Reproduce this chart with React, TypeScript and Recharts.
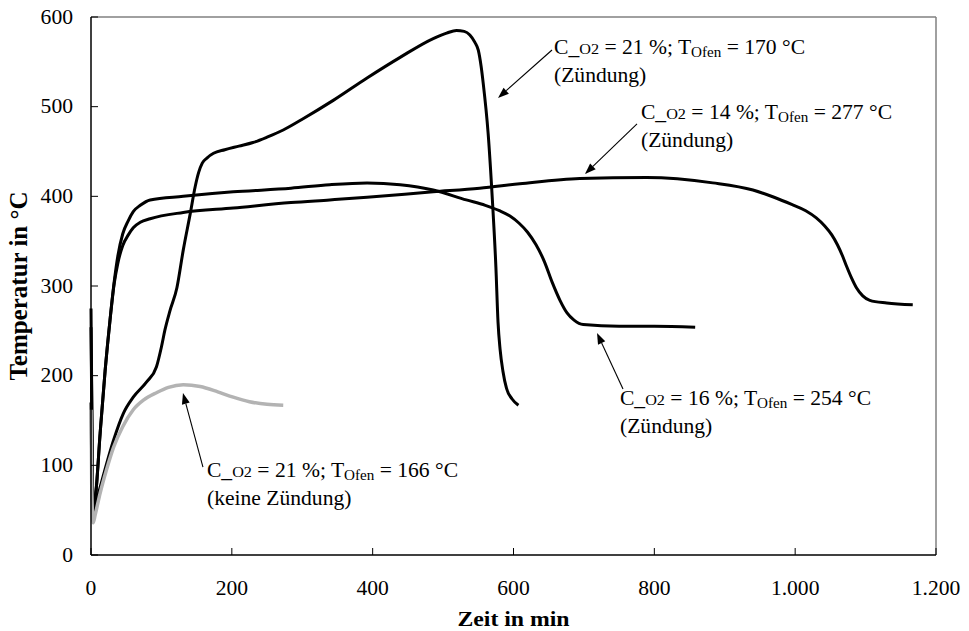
import React from 'react';
import { LineChart, Line, XAxis, YAxis, ReferenceLine, ReferenceDot } from 'recharts';

const FONT = '"Liberation Serif", "Times New Roman", Times, serif';
const SX = 1.08;

// Axis ticks
const xTicks = [0, 200, 400, 600, 800, 1000, 1200];
const xTickLabels = ['0', '200', '400', '600', '800', '1.000', '1.200'];
const yTicks = [0, 100, 200, 300, 400, 500, 600];
const yTickLabels = ['0', '100', '200', '300', '400', '500', '600'];

// C_O2 = 21 %, T_Ofen = 170 °C (Zündung)
const zeit21z = [0, 2, 4, 6, 17, 32, 46, 60, 79, 93, 100, 105, 112, 122, 131, 141, 148, 153, 158, 165, 174, 190, 210, 230, 250, 273, 300, 344, 392, 439, 486, 505, 519, 530, 538, 545, 550, 554, 557, 564, 570, 575, 578, 581, 585, 590, 598, 607];
const temp21z = [170, 60, 47, 54, 87, 128, 158, 176, 193, 210, 232, 251, 272, 298, 340, 381, 411, 427, 437, 443, 448, 452, 456, 460, 466, 474, 486, 507, 532, 555, 576, 582, 585, 584, 580, 572, 563, 545, 526, 470, 396, 321, 260, 229, 205, 186, 174, 167];

// C_O2 = 16 %, T_Ofen = 254 °C (Zündung)
const zeit16 = [0, 2, 3, 6, 13, 20, 27, 33, 38, 45, 53, 60, 70, 84, 131, 202, 284, 339, 392, 439, 486, 533, 560, 580, 595, 608, 620, 632, 644, 655, 666, 676, 686, 699, 750, 800, 858];
const temp16 = [254, 90, 50, 62, 136, 205, 262, 305, 333, 358, 373, 383, 390, 396, 400, 405, 409, 413, 415, 413, 407, 396, 390, 384, 378, 370, 360, 346, 327, 304, 284, 270, 262, 257, 255, 255, 254];

// C_O2 = 14 %, T_Ofen = 277 °C (Zündung)
const zeit14 = [0, 2, 3, 6, 13, 20, 27, 33, 38, 45, 53, 60, 70, 84, 131, 202, 284, 339, 392, 486, 552, 609, 694, 789, 883, 940, 970, 995, 1015, 1030, 1042, 1052, 1060, 1067, 1073, 1080, 1087, 1096, 1106, 1130, 1167];
const temp14 = [275, 90, 50, 62, 136, 205, 262, 303, 325, 345, 357, 365, 371, 375, 382, 387, 393, 396, 399, 405, 409, 414, 420, 421, 415, 407, 399, 391, 384, 376, 367, 357, 346, 334, 322, 309, 298, 289, 284, 281, 279];

// C_O2 = 21 %, T_Ofen = 166 °C (keine Zündung)
const zeit21k = [0, 1, 3, 6, 13, 22, 32, 45, 60, 75, 93, 110, 131, 155, 180, 202, 225, 250, 273];
const temp21k = [162, 80, 36, 45, 69, 95, 120, 143, 162, 173, 181, 187, 190, 188, 182, 176, 171, 168, 167];

const build = (ts: number[], vs: number[]) => ts.map((t, i) => ({ t, T: vs[i] }));
const s21z = build(zeit21z, temp21z);
const s16 = build(zeit16, temp16);
const s14 = build(zeit14, temp14);
const s21k = build(zeit21k, temp21k);

// Annotations (data coordinates)
const annotations = [
  { pct: '21', ofen: '170', note: '(Zündung)', tx: 657.5, ty: 559, ax1: 654.7, ay1: 563.2, ax2: 578, ay2: 509.7 },
  { pct: '14', ofen: '277', note: '(Zündung)', tx: 781, ty: 486, ax1: 775.4, ay1: 480.7, ax2: 701.5, ay2: 424.9 },
  { pct: '16', ofen: '254', note: '(Zündung)', tx: 751.2, ty: 167.3, ax1: 755.5, ay1: 185.1, ax2: 718.6, ay2: 247.6 },
  { pct: '21', ofen: '166', note: '(keine Zündung)', tx: 164.7, ty: 87, ax1: 159, ay1: 98.1, ax2: 130.6, ay2: 180.7 },
];

const YTick = (props: any) => {
  const { x, y, payload } = props;
  const i = yTicks.indexOf(payload.value);
  return (
    <g>
      <line x1={x} x2={x + 7} y1={y} y2={y} stroke="#000" strokeWidth={1} />
      <text transform={`translate(${x - 18},${y + 6.6}) scale(${SX},1)`} textAnchor="end" fontFamily={FONT} fontSize={20} fill="#000">
        {yTickLabels[i]}
      </text>
    </g>
  );
};

const XTick = (props: any) => {
  const { x, y, payload } = props;
  const i = xTicks.indexOf(payload.value);
  return (
    <g>
      <line x1={x} x2={x} y1={y} y2={y - 7} stroke="#000" strokeWidth={1} />
      <text transform={`translate(${x},${y + 40}) scale(${SX},1)`} textAnchor="middle" fontFamily={FONT} fontSize={20} fill="#000">
        {xTickLabels[i]}
      </text>
    </g>
  );
};

const XTitle = (props: any) => {
  const vb = props.viewBox || { x: 91, y: 555, width: 845, height: 30 };
  return (
    <text transform={`translate(${vb.x + vb.width / 2},${vb.y + 71}) scale(${SX},1)`} textAnchor="middle" fontFamily={FONT} fontSize={22} fontWeight="bold" fill="#000">
      Zeit in min
    </text>
  );
};

const YTitle = (props: any) => {
  const vb = props.viewBox || { x: 31, y: 17, width: 60, height: 538 };
  return (
    <text transform={`translate(${vb.x - 13},${vb.y + vb.height / 2}) rotate(-90)`} textAnchor="middle" dominantBaseline="central" fontFamily={FONT} fontSize={25} fontWeight="bold" fill="#000">
      Temperatur in °C
    </text>
  );
};

const Arrow = (p: any) => {
  const { x1, y1, x2, y2 } = p;
  const dx = x2 - x1;
  const dy = y2 - y1;
  const len = Math.hypot(dx, dy) || 1;
  const ux = dx / len;
  const uy = dy / len;
  const L = 11;
  const W = 4;
  const bx = x2 - ux * L;
  const by = y2 - uy * L;
  return (
    <g>
      <line x1={x1} y1={y1} x2={bx} y2={by} stroke="#000" strokeWidth={1.1} />
      <polygon points={`${x2},${y2} ${bx - uy * W},${by + ux * W} ${bx + uy * W},${by - ux * W}`} fill="#000" />
    </g>
  );
};

const AnnText = (p: any) => {
  const { cx, cy, a } = p;
  return (
    <text transform={`translate(${cx},${cy}) scale(${SX},1)`} fontFamily={FONT} fontSize={20} fill="#000">
      <tspan x={0} y={0}>C_</tspan>
      <tspan fontSize={15}>O2</tspan>
      <tspan>{` = ${a.pct} %; T`}</tspan>
      <tspan fontSize={14} dy={3}>Ofen</tspan>
      <tspan dy={-3}>{` = ${a.ofen} °C`}</tspan>
      <tspan x={0} y={28}>{a.note}</tspan>
    </text>
  );
};

export default function App() {
  return (
    <div style={{ position: 'absolute', left: 0, top: 0, width: 969, height: 631, background: '#fff' }}>
      <LineChart width={969} height={631} margin={{ top: 17, right: 33, bottom: 46, left: 31 }}>
        <XAxis
          type="number"
          dataKey="t"
          domain={[0, 1200]}
          ticks={xTicks}
          interval={0}
          height={30}
          tickSize={0}
          tickMargin={0}
          tickLine={false}
          tick={<XTick />}
          axisLine={{ stroke: '#000', strokeWidth: 1.5 }}
          label={<XTitle />}
        />
        <YAxis
          type="number"
          domain={[0, 600]}
          ticks={yTicks}
          interval={0}
          width={60}
          tickSize={0}
          tickMargin={0}
          tickLine={false}
          tick={<YTick />}
          axisLine={{ stroke: '#000', strokeWidth: 1.5 }}
          label={<YTitle />}
        />
        <ReferenceLine y={600} stroke="#808080" strokeWidth={1.5} />
        <ReferenceLine x={1200} stroke="#808080" strokeWidth={1.5} />
        <Line data={s14} dataKey="T" type="monotone" stroke="#000" strokeWidth={3} dot={false} activeDot={false} isAnimationActive={false} />
        <Line data={s16} dataKey="T" type="monotone" stroke="#000" strokeWidth={3} dot={false} activeDot={false} isAnimationActive={false} />
        <Line data={s21z} dataKey="T" type="monotone" stroke="#000" strokeWidth={3} dot={false} activeDot={false} isAnimationActive={false} />
        <Line data={s21k} dataKey="T" type="monotone" stroke="#b3b3b3" strokeWidth={3.5} dot={false} activeDot={false} isAnimationActive={false} />
        {annotations.map((a, i) => (
          <ReferenceLine
            key={`arr${i}`}
            segment={[{ x: a.ax1, y: a.ay1 }, { x: a.ax2, y: a.ay2 }]}
            shape={(p: any) => <Arrow {...p} />}
          />
        ))}
        {annotations.map((a, i) => (
          <ReferenceDot
            key={`txt${i}`}
            x={a.tx}
            y={a.ty}
            r={1}
            shape={(p: any) => <AnnText cx={p.cx} cy={p.cy} a={a} />}
          />
        ))}
      </LineChart>
    </div>
  );
}
